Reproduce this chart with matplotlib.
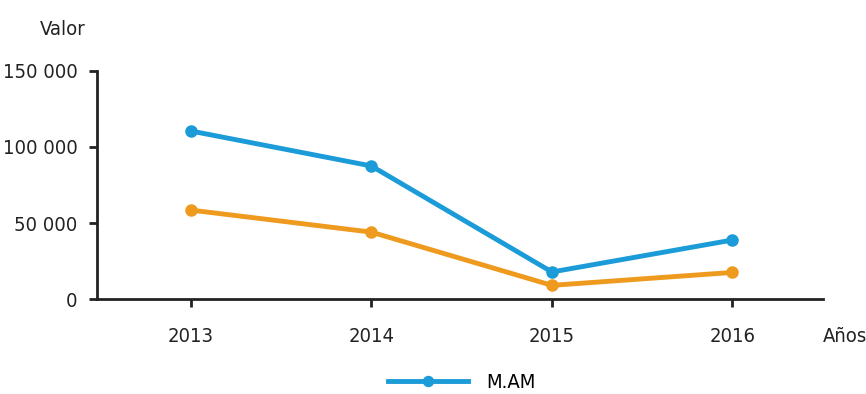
import matplotlib.pyplot as plt
from matplotlib.ticker import FuncFormatter

# Data
years = [2013, 2014, 2015, 2016]
mam = [110500, 87500, 17800, 38800]
other = [58500, 44000, 9000, 17500]
y_ticks = [0, 50000, 100000, 150000]

plt.rcParams['font.family'] = ['DejaVu Sans']
plt.rcParams['font.stretch'] = 'condensed'

blue = '#1b9bd7'
orange = '#ee9a1f'
txt = '#222222'

fig = plt.figure(figsize=(8.66, 3.94), dpi=100)
ax = fig.add_axes([0.112, 0.241, 0.838, 0.579])

l1, = ax.plot(years, mam, color=blue, lw=3.5, marker='o', ms=8, label='M.AM')
ax.plot(years, other, color=orange, lw=3.5, marker='o', ms=8)

ax.set_xlim(2012.48, 2016.5)
ax.set_ylim(0, 150000)
ax.set_xticks(years)
ax.set_yticks(y_ticks)
ax.yaxis.set_major_formatter(FuncFormatter(lambda v, p: f'{int(v):,}'.replace(',', ' ')))

for s in ['top', 'right']:
    ax.spines[s].set_visible(False)
for s in ['left', 'bottom']:
    ax.spines[s].set_linewidth(2)
    ax.spines[s].set_color(txt)
ax.tick_params(width=2, length=6, colors=txt, labelsize=14.5)
ax.tick_params(axis='y', pad=8)
ax.tick_params(axis='x', pad=14)

fig.text(0.072, 0.925, 'Valor', fontsize=14.5, ha='center', va='center', color=txt)
fig.text(0.976, 0.147, 'Años', fontsize=14.5, ha='center', va='center', color=txt)

fig.legend(handles=[l1], loc='center', bbox_to_anchor=(0.533, 0.03), frameon=False,
           fontsize=14.5, handlelength=4.0, handletextpad=0.9, markerscale=0.9)

fig.savefig('out.png', dpi=100)
